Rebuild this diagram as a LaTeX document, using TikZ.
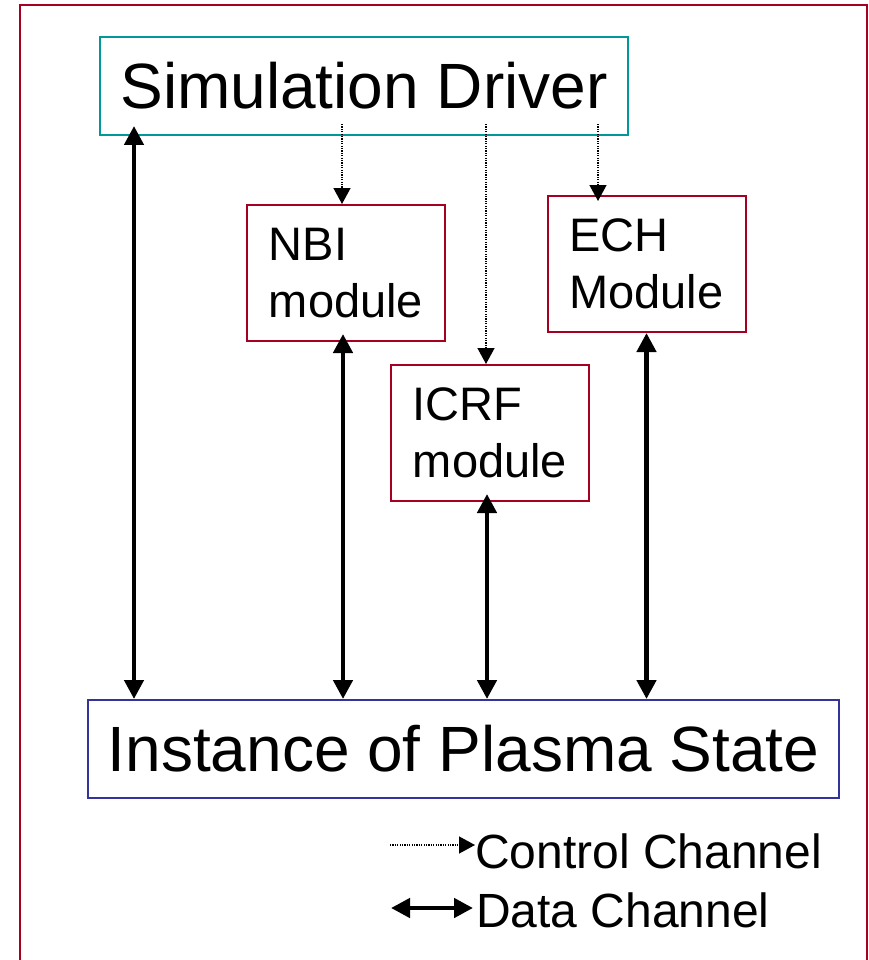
\documentclass[tikz,border=0pt]{standalone}
\usepackage{fontspec}
\setmainfont{Liberation Sans}
\usetikzlibrary{arrows.meta}

\definecolor{framered}{HTML}{A50021}
\definecolor{driverteal}{HTML}{009999}
\definecolor{stateblue}{HTML}{333399}

\tikzset{
  frameline/.style={draw=framered, line width=2pt},
  driverbox/.style={draw=driverteal, line width=2pt, minimum width=528pt, minimum height=98pt,
    inner sep=0pt, font=\fontsize{64}{77}\selectfont},
  statebox/.style={draw=stateblue, line width=2pt, minimum width=751pt, minimum height=98pt,
    inner sep=0pt, font=\fontsize{64}{77}\selectfont},
  modbox/.style={draw=framered, line width=2pt, minimum width=198pt, minimum height=136pt,
    inner sep=0pt, align=left, font=\fontsize{47}{57}\selectfont},
  legendtext/.style={inner sep=0pt, anchor=base west, font=\fontsize{48}{58}\selectfont},
  datach/.style={line width=4.5pt,
    {Triangle[length=19pt,width=19pt]}-{Triangle[length=19pt,width=19pt]}},
  ctrlch/.style={line width=1.4pt, dash pattern=on 1.2pt off 1.2pt,
    -{Triangle[length=16pt,width=17pt]}},
}

\begin{document}
\begin{tikzpicture}[x=1pt, y=-1pt]
  \useasboundingbox (0,0) rectangle (869,960);

  % outer frame (runs past the lower page edge)
  \draw[frameline] (20,5) rectangle (867,990);

  % boxes
  \node[driverbox] (sim)  at (364,86)    {Simulation Driver};
  \node[statebox]  (inst) at (463.5,749) {Instance of Plasma State};
  \node[modbox]    (nbi)  at (346,273)   {NBI\\module};
  \node[modbox]    (icrf) at (490,433)   {ICRF\\module};
  \node[modbox]    (ech)  at (646.5,264) {ECH\\Module};

  % data channels
  \coordinate (d0) at ([xshift=35pt,yshift=10pt]sim.south west);
  \draw[datach] (d0) -- (d0 |- inst.north);
  \coordinate (d1) at ([xshift=-3pt,yshift=8pt]nbi.south);
  \draw[datach] (d1) -- (d1 |- inst.north);
  \coordinate (d2) at ([xshift=-3pt,yshift=8pt]icrf.south);
  \draw[datach] (d2) -- (d2 |- inst.north);
  \coordinate (d3) at (ech.south);
  \draw[datach] (d3) -- (d3 |- inst.north);

  % control channels
  \coordinate (c1) at ([xshift=243pt,yshift=12pt]sim.south west);
  \draw[ctrlch] (c1) -- (c1 |- nbi.north);
  \coordinate (c2) at ([xshift=387pt,yshift=12pt]sim.south west);
  \draw[ctrlch] (c2) -- (c2 |- icrf.north);
  \coordinate (c3) at ([xshift=499pt,yshift=12pt]sim.south west);
  \coordinate (c3end) at ([yshift=-6pt]ech.north);
  \draw[ctrlch] (c3) -- (c3 |- c3end);

  % legend
  \node[legendtext] (lctrl) at (475,868) {Control Channel};
  \node[legendtext] (ldata) at (476,927) {Data Channel};
  \coordinate (lc) at (390,845);
  \draw[ctrlch] (lc) -- (lc -| lctrl.west);
  \coordinate (ld) at (391,908);
  \draw[datach] (ld) -- ([xshift=-3pt]ld -| ldata.west);
\end{tikzpicture}
\end{document}
